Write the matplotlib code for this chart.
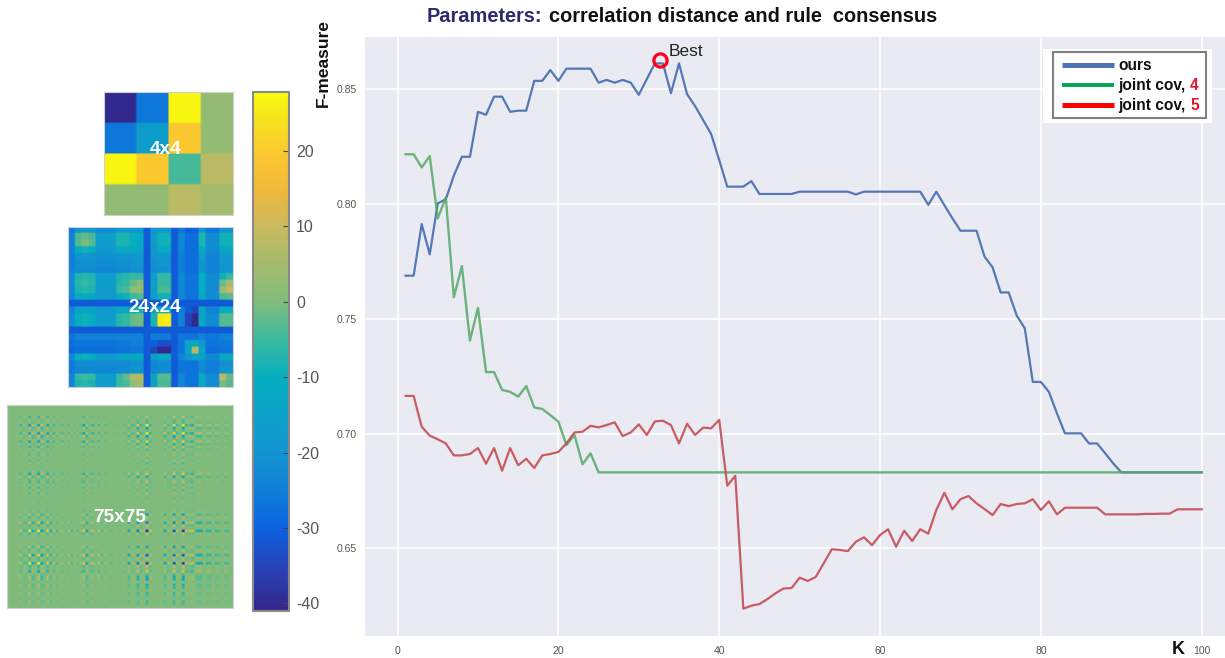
"""F-measure against K, with the three covariance matrices and their colour bar."""
import matplotlib
matplotlib.use("Agg")
import matplotlib.pyplot as plt
import numpy as np
from matplotlib.colors import LinearSegmentedColormap, Normalize
from matplotlib.cm import ScalarMappable
from matplotlib.patches import Rectangle

plt.rcParams['font.family'] = ['Liberation Sans', 'DejaVu Sans']
plt.rcParams['axes.unicode_minus'] = False

W, H = 1225, 658

k = list(range(1, 101))
ours = [0.7688, 0.7688, 0.7913, 0.7781, 0.8003, 0.8021, 0.8124, 0.8206, 0.8206, 0.8402,
        0.8389, 0.8468, 0.8468, 0.8402, 0.8407, 0.8407, 0.8537, 0.8537, 0.8584, 0.8537,
        0.8590, 0.8590, 0.8590, 0.8590, 0.8529, 0.8541, 0.8529, 0.8541, 0.8529, 0.8476,
        0.8545, 0.8613, 0.8613, 0.8483, 0.8613, 0.8479, 0.8427, 0.8366, 0.8305, 0.8192,
        0.8076, 0.8076, 0.8076, 0.8100, 0.8044, 0.8044, 0.8044, 0.8044, 0.8044, 0.8054,
        0.8054, 0.8054, 0.8054, 0.8054, 0.8054, 0.8054, 0.8042, 0.8054, 0.8054, 0.8054,
        0.8054, 0.8054, 0.8054, 0.8054, 0.8054, 0.7997, 0.8054, 0.7995, 0.7938, 0.7884,
        0.7884, 0.7884, 0.7771, 0.7724, 0.7615, 0.7615, 0.7514, 0.7459, 0.7225, 0.7225,
        0.7182, 0.7088, 0.7001, 0.7001, 0.7001, 0.6957, 0.6957, 0.6914, 0.6870, 0.6831,
        0.6831, 0.6831, 0.6831, 0.6831, 0.6831, 0.6831, 0.6831, 0.6831, 0.6831, 0.6831]
joint4 = [0.8217, 0.8217, 0.8160, 0.8209, 0.7938, 0.8029, 0.7594, 0.7730, 0.7405, 0.7548,
          0.7268, 0.7268, 0.7190, 0.7182, 0.7161, 0.7207, 0.7114, 0.7107, 0.7080, 0.7052,
          0.6950, 0.6994, 0.6866, 0.6914] + [0.6831] * 76
joint5 = [0.7164, 0.7164, 0.7030, 0.6991, 0.6975, 0.6957, 0.6905, 0.6905, 0.6911, 0.6937,
          0.6869, 0.6937, 0.6838, 0.6937, 0.6862, 0.6890, 0.6850, 0.6905, 0.6911, 0.6920,
          0.6957, 0.7005, 0.7008, 0.7034, 0.7027, 0.7037, 0.7049, 0.6989, 0.7005, 0.7040,
          0.6994, 0.7053, 0.7056, 0.7037, 0.6957, 0.7043, 0.6994, 0.7026, 0.7023, 0.7060,
          0.6773, 0.6816, 0.6237, 0.6250, 0.6257, 0.6279, 0.6304, 0.6325, 0.6327, 0.6372,
          0.6358, 0.6375, 0.6435, 0.6496, 0.6493, 0.6488, 0.6529, 0.6548, 0.6514, 0.6558,
          0.6583, 0.6507, 0.6577, 0.6532, 0.6583, 0.6564, 0.6667, 0.6742, 0.6670, 0.6714,
          0.6728, 0.6696, 0.6671, 0.6645, 0.6693, 0.6684, 0.6693, 0.6696, 0.6714, 0.6667,
          0.6705, 0.6648, 0.6677, 0.6677, 0.6677, 0.6677, 0.6677, 0.6648, 0.6648, 0.6648,
          0.6648, 0.6648, 0.6650, 0.6650, 0.6651, 0.6651, 0.6670, 0.6670, 0.6670, 0.6670]
best_k = 32.6
best_f = 0.8627

x_ticks = [0, 20, 40, 60, 80, 100]
y_ticks = [0.65, 0.70, 0.75, 0.80, 0.85]
legend_labels = ["ours", "joint cov, ", "joint cov, "]
legend_numbers = ["", "4", "5"]

matrix4 = [[-40, -26, 27, 3],
           [-26, -17, 20, 3],
           [27, 20, -4, 8],
           [3, 3, 8, 5]]

matrix24 = [
    [-26, -20, -20, -20, -22, -22, -22, -20, -20, -20, -20, -31, -20, -18, -18, -31, -26, -30, -30, -20, -26, -26, -20, -20],
    [-24, -4, -2, -4, -17, -17, -17, -8, -8, -10, -11, -31, -17, -9, -9, -31, -23, -28, -28, -8, -22, -22, -9, -9],
    [-24, -3, 0, -3, -17, -17, -17, -8, -8, -10, -11, -31, -17, -9, -9, -31, -23, -28, -28, -8, -22, -22, -9, -9],
    [-24, -10, -9, -10, -18, -18, -18, -11, -11, -12, -12, -31, -18, -11, -11, -31, -24, -28, -28, -11, -22, -22, -12, -12],
    [-25, -20, -20, -20, -21, -21, -21, -20, -20, -19, -19, -31, -20, -19, -19, -31, -25, -28, -28, -17, -24, -24, -18, -18],
    [-25, -21, -21, -21, -22, -22, -22, -21, -21, -20, -20, -31, -21, -20, -20, -31, -25, -28, -28, -20, -24, -24, -19, -19],
    [-24, -22, -22, -22, -23, -23, -23, -22, -22, -21, -21, -31, -22, -21, -21, -31, -25, -28, -28, -20, -24, -24, -20, -20],
    [-22, -8, -7, -8, -17, -17, -17, -8, -7, -5, -6, -31, -17, -6, -6, -31, -23, -27, -27, -10, -22, -22, -9, -6],
    [-22, -7, -6, -7, -17, -17, -17, -7, -6, -2, 1, -31, -16, -5, -5, -31, -23, -27, -27, -10, -22, -22, -2, 5],
    [-22, -8, -7, -8, -17, -17, -17, -6, -4, 2, 3, -31, -15, -4, -4, -31, -23, -27, -27, -10, -22, -22, 4, 9],
    [-23, -12, -11, -12, -18, -18, -18, -10, -9, -5, -3, -31, -16, -9, -9, -31, -23, -27, -27, -12, -22, -22, -4, -3],
    [-31, -31, -31, -31, -31, -31, -31, -31, -31, -31, -31, -31, -31, -31, -31, -31, -31, -31, -31, -31, -31, -31, -31, -31],
    [-24, -15, -14, -15, -18, -18, -18, -14, -13, -10, -9, -31, -14, -12, -12, -31, -25, -31, -35, -13, -24, -24, -10, -10],
    [-22, -10, -9, -10, -17, -17, -17, -7, -6, -2, -1, -31, -8, 25, 26, -31, -24, -35, -40, -12, -22, -22, -3, -3],
    [-22, -10, -9, -10, -17, -17, -17, -7, -6, -2, -1, -31, -8, 25, 26, -31, -24, -35, -40, -12, -22, -22, -3, -3],
    [-31, -31, -31, -31, -31, -31, -31, -31, -31, -31, -31, -31, -31, -31, -31, -31, -31, -31, -31, -31, -31, -31, -31, -31],
    [-27, -24, -24, -24, -24, -24, -24, -24, -24, -24, -24, -31, -25, -25, -25, -31, -26, -27, -27, -24, -26, -26, -24, -24],
    [-28, -27, -27, -27, -27, -27, -27, -26, -26, -25, -25, -31, -30, -33, -33, -31, -27, -14, -10, -18, -27, -27, -26, -26],
    [-29, -28, -28, -28, -28, -28, -28, -27, -27, -26, -26, -31, -35, -40, -40, -31, -27, -12, 8, -14, -28, -28, -27, -27],
    [-23, -10, -9, -10, -18, -18, -18, -14, -13, -13, -12, -31, -17, -12, -12, -31, -24, -18, -14, -15, -23, -23, -12, -12],
    [-26, -22, -22, -22, -22, -22, -22, -22, -22, -21, -21, -31, -23, -22, -22, -31, -26, -27, -27, -22, -25, -25, -21, -21],
    [-26, -23, -23, -23, -23, -23, -23, -22, -22, -20, -20, -31, -23, -22, -22, -31, -26, -27, -27, -22, -25, -25, -20, -20],
    [-23, -6, -5, -6, -17, -17, -17, -5, -2, 6, 7, -31, -14, -3, -3, -31, -23, -27, -27, -12, -22, -22, 8, -2],
    [-23, -8, -7, -8, -17, -17, -17, -6, -4, 3, 5, -31, -14, -4, -4, -31, -23, -27, -27, -12, -22, -22, -1, -3],
]

# weights read along one row of the 75x75 matrix, it is close to rank one
weights75 = [0, 0, 0, 0, 1.5, -0.5, -1, 4, -2, -0.5, 4, -2.5, -0.5, 3, -1.5, 1.5, -0.8, 0.4, 0.8, -0.3,
             0.7, -0.5, 0.2, -0.3, 0.5, 2.5, -2, 0.5, 1.5, -0.3, 1, -0.5, 0.6, 0.2, -0.3, 0.3, 0.2, -0.2, 0.3, 0.5,
             -2, 1, 0.3, -4, 1.5, 0.3, -6, 1.5, 0.2, 0, 0, 0.3, -2, 1, 0.5, -5, 1, 0.5, -6, 1.5,
             0.5, 2.5, -0.5, -2, -1.6, 0.3, -1.3, -1, 0.3, -1, -0.6, 0.5, -0.8, -0.6, 0.3]

cbar_ticks = [20, 10, 0, -10, -20, -30, -40]
vmin, vmax = -41, 27.8

stops = [(-41, '#33278a'), (-36, '#2a3fb5'), (-30, '#0a62e0'), (-25, '#1080d8'), (-20, '#1295d0'),
         (-10, '#06aec0'), (-5, '#3bba9e'), (0, '#80bc7c'), (10, '#c8ba60'), (15, '#f0b83a'),
         (20, '#fcc830'), (25, '#f5e61a'), (27.8, '#f9fb0e')]
parula = LinearSegmentedColormap.from_list(
    'parula_like', [((v - vmin) / (vmax - vmin), c) for v, c in stops], N=128)
norm = Normalize(vmin, vmax)


def px_axes(fig, x0, y0, x1, y1, **kw):
    return fig.add_axes([x0 / W, 1 - y1 / H, (x1 - x0) / W, (y1 - y0) / H], **kw)


def draw_matrix(fig, data, box, rep):
    # repeating cells keeps them blocky, bilinear only softens their edges
    ax = px_axes(fig, *box)
    big = np.repeat(np.repeat(np.array(data), rep, axis=0), rep, axis=1)
    ax.imshow(big, cmap=parula, norm=norm, aspect='auto', interpolation='bilinear')
    ax.set_xticks([])
    ax.set_yticks([])
    for s in ax.spines.values():
        s.set_color('#d0d0d0')
        s.set_linewidth(0.8)
    return ax


fig = plt.figure(figsize=(W / 100, H / 100), dpi=100, facecolor='white')

# main plot
ax = px_axes(fig, 365, 37, 1225, 636, facecolor='#eaeaf2')
ax.set_xlim(-4.05, 102.9)
ax.set_ylim(0.6118, 0.8728)
ax.set_xticks(x_ticks)
ax.set_yticks(y_ticks)
ax.set_yticklabels(['%.2f' % v for v in y_ticks])
ax.grid(True, color='white', lw=1.1)
ax.set_axisbelow(True)
ax.tick_params(length=0, labelsize=7.5, labelcolor='#555555', pad=6)
ax.tick_params(axis='x', pad=7)
for s in ax.spines.values():
    s.set_visible(False)
ax.plot(k, ours, color='#4c72b0', lw=1.6, alpha=0.95)
ax.plot(k, joint4, color='#55a868', lw=1.7, alpha=0.85)
ax.plot(k, joint5, color='#c44e52', lw=1.6, alpha=0.9)
ax.plot([best_k], [best_f], 'o', mfc='none', mec='#ff0018', ms=9.5, mew=2.3)

# matrices on the left
draw_matrix(fig, matrix4, (104, 92, 233, 215), 16)
draw_matrix(fig, matrix24, (68, 227, 233, 387), 4)
u = np.array(weights75)
draw_matrix(fig, -np.outer(u, u), (7, 405, 233, 608), 2)

# colour bar
cax = px_axes(fig, 253, 92, 289, 611)
cb = fig.colorbar(ScalarMappable(norm=norm, cmap=parula), cax=cax)
cb.set_ticks(cbar_ticks)
cb.set_ticklabels([str(v) for v in cbar_ticks])
cax.tick_params(direction='in', length=4, width=0.8, color='#444444',
                labelsize=11.5, labelcolor='#555555', pad=5)
cb.outline.set_edgecolor('#8a8a8a')
cb.outline.set_linewidth(1.5)

# everything placed by pixel goes on top
ov = fig.add_axes([0, 0, 1, 1], facecolor='none')
ov.set_xlim(0, W)
ov.set_ylim(H, 0)
ov.axis('off')

ov.text(427, 17, "Parameters:", color='#2d2a6e', fontsize=14.4, fontweight='bold', va='center')
ov.text(549, 17, "correlation distance and rule  consensus", color='#111111',
        fontsize=14.4, fontweight='bold', va='center')
ov.text(323, 63, "F-measure", rotation=90, ha='center', va='center', fontsize=12.5,
        fontweight='bold', color='#111111')
ov.text(1178, 649, "K", ha='center', va='center', fontsize=13, fontweight='bold', color='#111111')
ov.text(669, 51.5, "Best", ha='left', va='center', fontsize=12.5, color='#222222')

for label, cx, cy in [("4x4", 166, 149.5), ("24x24", 155, 308), ("75x75", 120, 517)]:
    ov.text(cx, cy, label, color='white', fontsize=13.7, fontweight='bold', ha='center', va='center')

# legend box
ov.add_patch(Rectangle((1043, 49), 169, 74, fc='white', ec='none'))
ov.add_patch(Rectangle((1053, 52), 153, 66, fc='white', ec='#7f7f7f', lw=1.5))
legend_colors = ['#4c72b0', '#00a651', '#ff0000']
legend_y = [65, 85, 105]
legend_lw = [3.6, 2.8, 3.6]
for label, num, c, y, lw in zip(legend_labels, legend_numbers, legend_colors, legend_y, legend_lw):
    ov.plot([1062, 1114], [y, y], color=c, lw=lw, solid_capstyle='butt')
    ov.text(1118, y + 0.5, label, fontsize=11.2, fontweight='bold', color='#111111', va='center')
    if num:
        ov.text(1190, y + 0.5, num, fontsize=11.2, fontweight='bold', color='#e8112d', va='center')

fig.savefig("out.png", dpi=100)
